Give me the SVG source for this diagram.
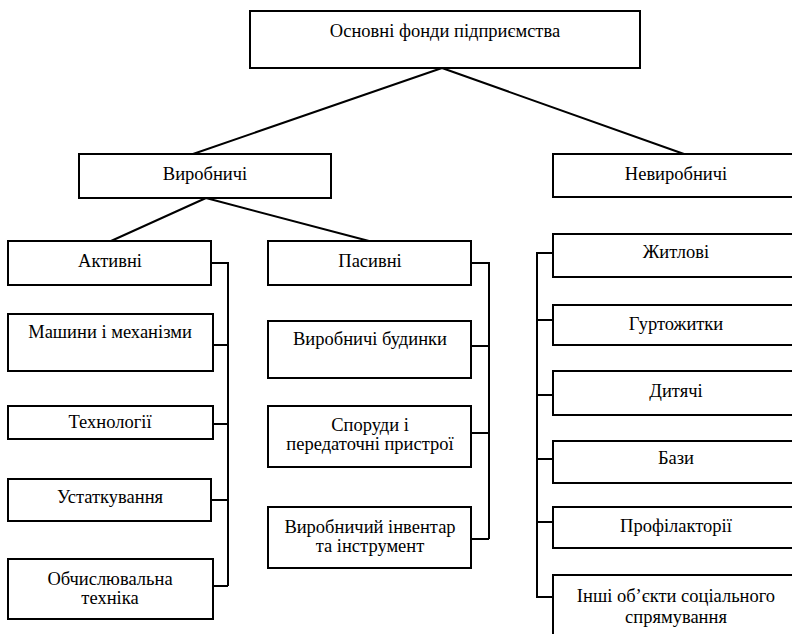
<svg xmlns="http://www.w3.org/2000/svg" width="792" height="634" viewBox="0 0 792 634">
<style>
.b{fill:#fff;stroke:#000;stroke-width:2}
.c{fill:none;stroke:#000;stroke-width:2}
.t{font-family:"Liberation Serif","Times New Roman",serif;font-size:18.5px;fill:#000;text-anchor:middle}
</style>
<rect width="792" height="634" fill="#fff"/>
<g id="connectors">
<path class="c" d="M442 68L193 154M442 68L684 154"/>
<path class="c" d="M206 198L111 241M206 198L369 241"/>
<path class="c" d="M211 263H228V586M213 345H228M213 424H228M211 500H228M213 586H228"/>
<path class="c" d="M471 263H489V539M471 346H489M471 433H489M471 539H489"/>
<path class="c" d="M553 253H537V597H553M537 320H553M537 395H553M537 459H553M537 522H553"/>
</g>
<g class="t">
<g id="root"><rect class="b" x="250" y="11" width="390" height="57"/><text x="445" y="37">Основні фонди підприємства</text></g>
<g id="vyrobnychi"><rect class="b" x="79" y="154" width="252" height="44"/><text x="205" y="180">Виробничі</text></g>
<g id="nevyrobnychi"><rect class="b" x="553" y="154" width="246" height="43"/><text x="676" y="180">Невиробничі</text></g>
<g id="aktyvni"><rect class="b" x="8" y="241" width="203" height="44"/><text x="110" y="267">Активні</text></g>
<g id="pasyvni"><rect class="b" x="268" y="241" width="203" height="44"/><text x="370" y="267">Пасивні</text></g>
<g id="mashyny"><rect class="b" x="8" y="314" width="205" height="57"/><text x="110" y="338">Машини і механізми</text></g>
<g id="tekhnolohii"><rect class="b" x="8" y="406" width="205" height="33"/><text x="110" y="428">Технології</text></g>
<g id="ustatkuvannia"><rect class="b" x="8" y="479" width="203" height="42"/><text x="110" y="503">Устаткування</text></g>
<g id="obchysliuvalna"><rect class="b" x="8" y="559" width="205" height="60"/><text x="110" y="585">Обчислювальна</text><text x="110" y="604">техніка</text></g>
<g id="budynky"><rect class="b" x="268" y="321" width="203" height="57"/><text x="370" y="345">Виробничі будинки</text></g>
<g id="sporudy"><rect class="b" x="268" y="406" width="203" height="61"/><text x="370" y="431">Споруди і</text><text x="370" y="450">передаточні пристрої</text></g>
<g id="inventar"><rect class="b" x="268" y="507" width="203" height="61"/><text x="370" y="533">Виробничий інвентар</text><text x="370" y="552">та інструмент</text></g>
<g id="zhytlovi"><rect class="b" x="553" y="234" width="246" height="43"/><text x="676" y="258">Житлові</text></g>
<g id="hurtozhytky"><rect class="b" x="553" y="305" width="246" height="40"/><text x="676" y="330">Гуртожитки</text></g>
<g id="dytiachi"><rect class="b" x="553" y="371" width="246" height="44"/><text x="676" y="397">Дитячі</text></g>
<g id="bazy"><rect class="b" x="553" y="441" width="246" height="42"/><text x="676" y="464">Бази</text></g>
<g id="profilaktorii"><rect class="b" x="553" y="507" width="246" height="41"/><text x="676" y="532">Профілакторії</text></g>
<g id="inshi"><rect class="b" x="553" y="575" width="246" height="70"/><text x="676" y="602">Інші об’єкти соціального</text><text x="676" y="623">спрямування</text></g>
</g>
</svg>
